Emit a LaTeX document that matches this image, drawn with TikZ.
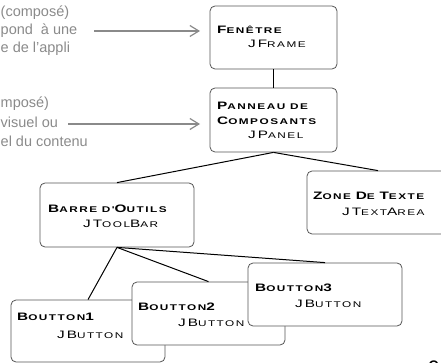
\documentclass[tikz,border=0pt]{standalone}
\usepackage{fontspec}
\setmainfont{Liberation Sans}
\newfontfamily\capsfont[FakeStretch=1.42,LetterSpace=18]{Liberation Sans}
\usetikzlibrary{arrows.meta}
\definecolor{notegray}{HTML}{8A8A8A}
\definecolor{boxline}{HTML}{555555}
% large initial letter inside the small-caps labels
\newcommand\Cap[1]{{\fontsize{10.8}{13}\selectfont #1}}

\tikzset{
  box/.style={draw=boxline, line width=0.8pt, rounded corners=5pt, fill=white, inner sep=0pt},
  title/.style={anchor=base west, inner sep=0pt, font=\capsfont\bfseries\fontsize{8.3}{10}\selectfont},
  cls/.style={anchor=base west, inner sep=0pt, font=\capsfont\fontsize{8.3}{10}\selectfont},
  link/.style={line width=1pt, black},
  note/.style={anchor=base west, inner sep=0pt, text=notegray, font=\fontsize{14.5}{17}\selectfont},
  pointer/.style={draw=notegray, line width=1.2pt, -{Straight Barb[length=9pt,width=11pt]}},
}

\begin{document}
\begin{tikzpicture}[x=1pt, y=-1pt]
  \useasboundingbox (0,0) rectangle (441,363);
  \clip (0,0) rectangle (441,363);

  % side notes
  \node[note] (n1a) at (0.5,17) {(composé)};
  \node[note] (n1b) at (0.5,35) {pond\ \ à une};
  \node[note] (n1c) at (0.5,53) {e de l’appli};
  \node[note] (n2a) at (0.5,108) {mposé)};
  \node[note] (n2b) at (0.5,128) {visuel ou};
  \node[note] (n2c) at (0.5,147) {el du contenu};
  \coordinate (p1s) at (94,31);
  \coordinate (p1e) at (200,31);
  \coordinate (p2s) at (68,124);
  \coordinate (p2e) at (200,124);
  \draw[pointer] (p1s) -- (p1e);
  \draw[pointer] (p2s) -- (p2e);

  % window
  \node[box, minimum width=127pt, minimum height=63pt] (fen) at (273.5,37.5) {};
  \node[title] (fenT) at (217,34) {\Cap{F}ENÊTRE};
  \node[cls] (fenC) at (248,48) {\Cap{J}\Cap{F}RAME};

  % content pane
  \node[box, minimum width=127pt, minimum height=64pt] (pan) at (273.5,120) {};
  \node[title] (panT1) at (217,110) {\Cap{P}ANNEAU DE};
  \node[title] (panT2) at (217,125) {\Cap{C}OMPOSANTS};
  \node[cls] (panC) at (248,139) {\Cap{J}\Cap{P}ANEL};

  % tool bar
  \node[box, minimum width=154pt, minimum height=64pt] (bar) at (117,215) {};
  \node[title] (barT) at (48,213) {\Cap{B}ARRE D'\Cap{O}UTILS};
  \node[cls] (barC) at (83,227) {\Cap{J}\Cap{T}OOL\Cap{B}AR};

  % text area
  \node[box, minimum width=142pt, minimum height=63pt] (zone) at (378,202.5) {};
  \node[title] (zoneT) at (313,200) {\Cap{Z}ONE \Cap{D}E \Cap{T}EXTE};
  \node[cls] (zoneC) at (342,215) {\Cap{J}\Cap{T}EXT\Cap{A}REA};

  % buttons
  \node[box, minimum width=154pt, minimum height=62pt] (b1) at (88,331) {};
  \node[title] (b1T) at (17,320) {\Cap{B}OUTTON\Cap{1}};
  \node[cls] (b1C) at (57,338) {\Cap{J}\Cap{B}UTTON};

  \node[box, minimum width=153pt, minimum height=63pt] (b2) at (208.5,313.5) {};
  \node[title] (b2T) at (138,310) {\Cap{B}OUTTON\Cap{2}};
  \node[cls] (b2C) at (178,326) {\Cap{J}\Cap{B}UTTON};

  \node[box, minimum width=154pt, minimum height=63pt] (b3) at (325,294.5) {};
  \node[title] (b3T) at (255,291) {\Cap{B}OUTTON\Cap{3}};
  \node[cls] (b3C) at (295,307) {\Cap{J}\Cap{B}UTTON};

  % page number
  \node[anchor=base west, inner sep=0pt, font=\fontsize{21}{24}\selectfont] (pg) at (428,375) {9};

  % hierarchy
  \draw[link] (fen.south) -- (pan.north);
  \draw[link] (pan.south) -- (bar.north);
  \draw[link] (pan.south) -- (zone.north);
  \draw[link] (bar.south) -- (b1.north);
  \draw[link] (bar.south) -- (b2.north);
  \draw[link] (bar.south) -- (b3.north);
\end{tikzpicture}
\end{document}
